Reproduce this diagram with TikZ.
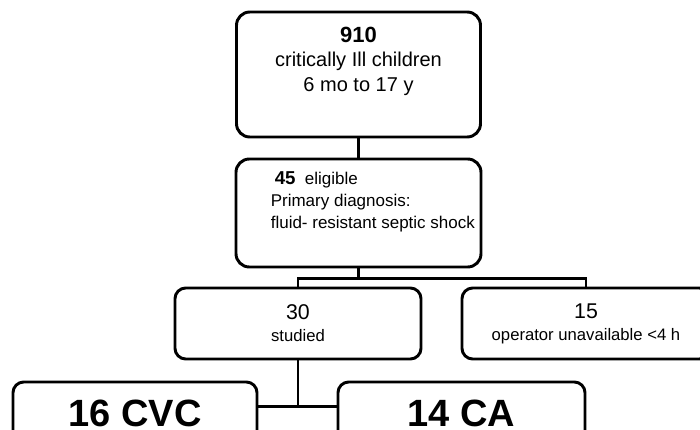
\documentclass[tikz,border=0pt]{standalone}
\usepackage{fontspec}
\setmainfont{Liberation Sans}
\usetikzlibrary{positioning,calc}

\begin{document}
\begin{tikzpicture}[
    x=0.75pt, y=-0.75pt,
    box/.style={rectangle, rounded corners=8pt, draw=black, line width=2.2pt,
                inner sep=0pt, align=center},
    conn/.style={draw=black, line width=2.2pt},
    txt/.style={inner sep=0pt, font=\fontsize{15}{18.4}\selectfont},
    small/.style={font=\fontsize{12.5}{16.5}\selectfont},
    big/.style={font=\fontsize{28.5}{30}\selectfont\bfseries},
]
    \path[use as bounding box, clip] (0,0) rectangle (700,429);

    % Screening
    \node[box, rounded corners=10pt, minimum width=183pt, minimum height=93.75pt] (n910) at (358.5,74.5) {};
    \node[txt, align=center, anchor=north, yshift=-12pt] (t910) at (n910.north)
        {{\fontsize{16.5}{18.4}\selectfont\bfseries 910}\\critically Ill children\\6 mo to 17 y};

    \node[box, rounded corners=10pt, minimum width=183.75pt, minimum height=81pt] (n45) at (358.5,213) {};
    \node[txt, align=left, anchor=north west, font=\fontsize{12.75}{16.5}\selectfont,
          xshift=27pt, yshift=-10.5pt] (t45) at (n45.north west)
        {\hspace{3pt}{\fontsize{14}{16.5}\selectfont\bfseries 45}\hspace{7pt}eligible\\Primary diagnosis:\\fluid- resistant septic shock};

    % Studied / excluded
    \node[box, small, minimum width=184.5pt, minimum height=53.25pt] (n30) at (298,323.5)
        {{\fontsize{16}{16.5}\selectfont 30}\\studied};
    \node[box, small, minimum width=186pt, minimum height=53.25pt] (n15) at (586,323.5)
        {{\fontsize{16}{16.5}\selectfont 15}\\operator unavailable <4 h};

    % Groups
    \node[box, big, minimum width=183pt, minimum height=47.25pt] (nCVC) at (135,413.5) {16 CVC};
    \node[box, big, minimum width=185.25pt, minimum height=47.25pt] (nCA) at (461.5,413.5) {14 CA};

    % Connectors
    \draw[conn] (n910.south) -- (n45.north);
    \coordinate (split) at ($(n45.south)+(0,10)$);
    \draw[conn] (n45.south) -- (split);
    \draw[conn] (n30.north) |- (split) -| (n15.north);
    \coordinate (join) at ($(n30.south)+(0,46)$);
    \draw[conn] (n30.south) -- (join);
    \draw[conn] (nCVC.east |- join) -- (nCA.west |- join);
\end{tikzpicture}
\end{document}
